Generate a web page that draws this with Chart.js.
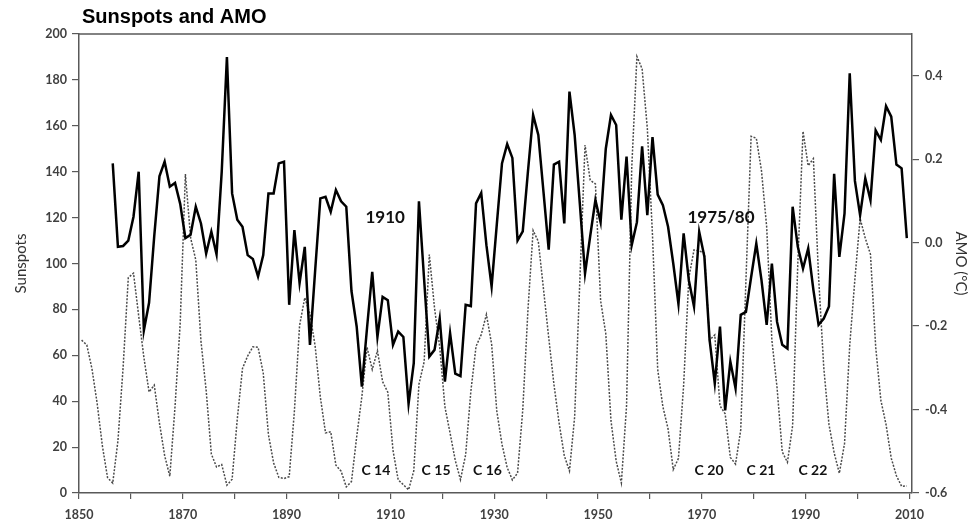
<!DOCTYPE html>
<html>
<head>
<meta charset="utf-8">
<script src="https://cdn.jsdelivr.net/npm/chart.js@4.4.1/dist/chart.umd.min.js"></script>
<style>
  body { margin: 0; background: #fff; }
  #wrap { width: 976px; height: 526px; }
</style>
</head>
<body>
<div id="wrap"><canvas id="myChart"></canvas></div>
<script>

// Yearly sunspot numbers, 1850 - 2009 (dotted line, left axis)

var sunspotStart = 1850;
var sunspots = [
  66.6, 64.5, 54.1, 39.0, 20.6, 6.7, 4.3, 22.7, 54.8, 93.8,
  95.8, 77.2, 59.1, 44.0, 47.0, 30.5, 16.3, 7.3, 37.6, 74.0,
  139.0, 111.2, 101.6, 66.2, 44.7, 17.0, 11.3, 12.4, 3.4, 6.0,
  32.3, 54.3, 59.7, 63.7, 63.5, 52.2, 25.4, 13.1, 6.8, 6.3,
  7.1, 35.6, 73.0, 85.1, 78.0, 64.0, 41.8, 26.2, 26.7, 12.1,
  9.5, 2.7, 5.0, 24.4, 42.0, 63.5, 53.8, 62.0, 48.5, 43.9,
  18.6, 5.7, 3.6, 1.4, 9.6, 47.4, 57.1, 103.9, 80.6, 63.6,
  37.6, 26.1, 14.2, 5.8, 16.7, 44.3, 63.9, 69.0, 77.8, 64.9,
  35.7, 21.2, 11.1, 5.7, 8.7, 36.1, 79.7, 114.4, 109.6, 88.8,
  67.8, 47.5, 30.6, 16.3, 9.6, 33.2, 92.6, 151.6, 136.3, 134.7,
  83.9, 69.4, 31.5, 13.9, 4.4, 38.0, 141.7, 190.2, 184.8, 159.0,
  112.3, 53.9, 37.6, 27.9, 10.2, 15.1, 47.0, 93.8, 105.9, 105.5,
  104.5, 66.6, 68.9, 38.0, 34.5, 15.5, 12.6, 27.5, 92.5, 155.4,
  154.6, 140.4, 115.9, 66.6, 45.9, 17.9, 13.4, 29.4, 100.2, 157.6,
  142.6, 145.7, 94.3, 54.6, 29.9, 17.5, 8.6, 21.5, 64.3, 93.3,
  119.6, 111.0, 104.0, 63.7, 40.4, 29.8, 15.2, 7.5, 2.9, 3.1
];

// Yearly AMO index in degrees C, 1856 - 2009 (solid line, right axis)

var amoStart = 1856;
var amo = [
  0.190, -0.010, -0.008, 0.005,
  0.062, 0.170, -0.210, -0.144, 0.016, 0.159, 0.194, 0.134, 0.143, 0.093,
  0.011, 0.019, 0.086, 0.046, -0.026, 0.026, -0.028, 0.170, 0.445, 0.118,
  0.055, 0.038, -0.030, -0.039, -0.081, -0.030, 0.118, 0.118, 0.190, 0.194,
  -0.149, 0.030, -0.097, -0.010, -0.245, -0.067, 0.106, 0.110, 0.074, 0.126,
  0.099, 0.086, -0.116, -0.201, -0.345, -0.204, -0.070, -0.226, -0.130, -0.138,
  -0.245, -0.213, -0.226, -0.386, -0.289, 0.099, -0.089, -0.273, -0.257, -0.182,
  -0.333, -0.217, -0.314, -0.320, -0.149, -0.152, 0.094, 0.119, -0.006, -0.105,
  0.044, 0.190, 0.236, 0.203, 0.005, 0.027, 0.170, 0.306, 0.258, 0.121,
  -0.017, 0.187, 0.194, 0.046, 0.362, 0.258, 0.093, -0.074, 0.016, 0.102,
  0.049, 0.225, 0.306, 0.282, 0.055, 0.206, -0.006, 0.049, 0.231, 0.066,
  0.253, 0.115, 0.090, 0.038, -0.050, -0.147, 0.022, -0.090, -0.153, 0.026,
  -0.034, -0.233, -0.337, -0.201, -0.402, -0.285, -0.349, -0.173, -0.166, -0.083,
  -0.002, -0.090, -0.197, -0.050, -0.190, -0.245, -0.254, 0.086, -0.010, -0.062,
  -0.014, -0.113, -0.197, -0.182, -0.153, 0.165, -0.034, 0.070, 0.406, 0.148,
  0.066, 0.154, 0.102, 0.269, 0.246, 0.327, 0.302, 0.187, 0.178, 0.011
];

// Tick labels

var yearTicks = [1850, 1860, 1870, 1880, 1890, 1900, 1910, 1920, 1930, 1940,
                 1950, 1960, 1970, 1980, 1990, 2000, 2010];
var sunspotTicks = [0, 20, 40, 60, 80, 100, 120, 140, 160, 180, 200];
var amoTicks = [-0.6, -0.4, -0.2, 0.0, 0.2, 0.4];

// Text notes on the chart (year, sunspot-axis height)

var notes = [
  { text: '1910', year: 1909, value: 120, size: 17 },
  { text: '1975/80', year: 1973.7, value: 120, size: 17 },
  { text: 'C 14', year: 1907.2, value: 10, size: 14 },
  { text: 'C 15', year: 1918.8, value: 10, size: 14 },
  { text: 'C 16', year: 1928.7, value: 10, size: 14 },
  { text: 'C 20', year: 1971.4, value: 10, size: 14 },
  { text: 'C 21', year: 1981.4, value: 10, size: 14 },
  { text: 'C 22', year: 1991.4, value: 10, size: 14 }
];

// yearly values sit in the middle of their year
function toPoints(start, values) {
  return values.map(function (v, i) { return { x: start + i + 0.5, y: v }; });
}

function fixedTicks(list) {
  return function (scale) {
    scale.ticks = list.map(function (v) { return { value: v }; });
  };
}

var axisColor = '#595959';
var tickFont = { family: 'Lato', size: 12.5, weight: 'bold' };

var extras = {
  id: 'extras',
  afterDraw: function (chart) {
    var ctx = chart.ctx, a = chart.chartArea;
    var x = chart.scales.x, y = chart.scales.y;
    ctx.save();
    ctx.strokeStyle = axisColor;
    ctx.lineWidth = 1.5;
    ctx.beginPath();
    ctx.moveTo(a.left, a.top);
    ctx.lineTo(a.right, a.top);
    ctx.stroke();

    ctx.fillStyle = '#000';
    ctx.font = 'bold 20px "Liberation Sans", Arial, sans-serif';
    ctx.textAlign = 'left';
    ctx.textBaseline = 'alphabetic';
    ctx.fillText('Sunspots and AMO', a.left + 3, 23);

    ctx.fillStyle = '#111';
    ctx.textAlign = 'center';
    ctx.textBaseline = 'middle';
    notes.forEach(function (n) {
      ctx.font = 'bold ' + n.size + 'px Lato, sans-serif';
      ctx.fillText(n.text, x.getPixelForValue(n.year), y.getPixelForValue(n.value));
    });
    ctx.restore();
  }
};

var ctx = document.getElementById('myChart');
var myChart = new Chart(ctx, {
  type: 'line',
  data: {
    datasets: [
      {
        label: 'AMO',
        data: toPoints(amoStart, amo),
        yAxisID: 'y1',
        borderColor: '#000',
        borderWidth: 2.5,
        pointRadius: 0,
        tension: 0,
        fill: false
      },
      {
        label: 'Sunspots',
        data: toPoints(sunspotStart, sunspots),
        yAxisID: 'y',
        borderColor: '#4a4a4a',
        borderWidth: 1.5,
        borderDash: [2, 1.5],
        pointRadius: 0,
        tension: 0,
        fill: false
      }
    ]
  },
  options: {
    responsive: true,
    maintainAspectRatio: false,
    animation: false,
    layout: { padding: { top: 34, left: 0, right: 0, bottom: 0 } },
    plugins: {
      legend: { display: false },
      tooltip: { enabled: false }
    },
    scales: {
      x: {
        type: 'linear',
        min: 1850,
        max: 2010.5,
        afterBuildTicks: fixedTicks(yearTicks),
        afterFit: function (s) { s.height = 33; },
        border: { color: axisColor, width: 1.5 },
        grid: { drawOnChartArea: false, drawTicks: true, tickLength: 6, color: axisColor, lineWidth: 1.2 },
        ticks: {
          autoSkip: false,
          maxRotation: 0,
          padding: 8,
          color: '#404040',
          font: tickFont,
          callback: function (v) { return (v - 1850) % 20 === 0 ? String(v) : ''; }
        }
      },
      y: {
        position: 'left',
        min: 0,
        max: 200,
        afterBuildTicks: fixedTicks(sunspotTicks),
        afterFit: function (s) { s.width = 79; },
        border: { color: axisColor, width: 1.5 },
        grid: { drawOnChartArea: false, drawTicks: true, tickLength: 7, color: axisColor, lineWidth: 1.2 },
        ticks: { padding: 5, color: '#404040', font: tickFont },
        title: {
          display: true,
          text: 'Sunspots',
          color: '#333',
          font: { family: 'Lato', size: 15 },
          padding: { top: 12, bottom: 0 }
        }
      },
      y1: {
        position: 'right',
        min: -0.6,
        max: 0.5,
        afterBuildTicks: fixedTicks(amoTicks),
        afterFit: function (s) { s.width = 64; },
        border: { color: axisColor, width: 1.5 },
        grid: { drawOnChartArea: false, drawTicks: true, tickLength: 7, color: axisColor, lineWidth: 1.2 },
        ticks: {
          padding: 6,
          color: '#404040',
          font: tickFont,
          callback: function (v) { return v.toFixed(1); }
        },
        title: {
          display: true,
          text: 'AMO (°C)',
          color: '#333',
          font: { family: 'Lato', size: 15 },
          padding: { top: 6, bottom: 6 }
        }
      }
    }
  },
  plugins: [extras]
});
</script>
</body>
</html>
